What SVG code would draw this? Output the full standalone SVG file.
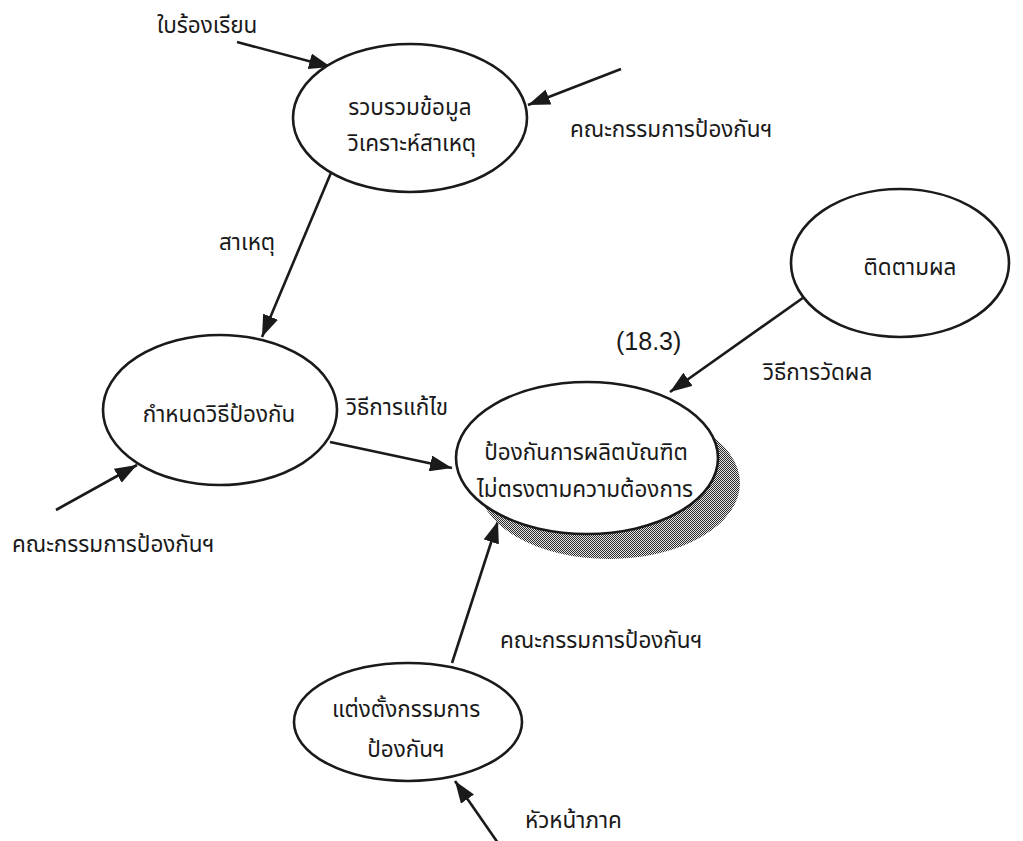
<svg xmlns="http://www.w3.org/2000/svg" width="1023" height="841" viewBox="0 0 1023 841">
  <defs>
    <marker id="arrow" viewBox="0 0 22 16" refX="22" refY="8" markerWidth="22" markerHeight="16" markerUnits="userSpaceOnUse" orient="auto">
      <path d="M0,0 L22,8 L0,16 Z" fill="#1a1a1a"/>
    </marker>
    <!-- fine halftone used for the drop shadow -->
    <pattern id="dots" width="2" height="2" patternUnits="userSpaceOnUse">
      <rect width="2" height="2" fill="#e6e6e6"/>
      <rect width="1" height="1" fill="#2a2a2a"/>
      <rect x="1" y="1" width="1" height="1" fill="#2a2a2a"/>
    </pattern>
    <style>
      .bubble { fill: #fff; stroke: #1a1a1a; stroke-width: 2.6; }
      .flow { stroke: #1a1a1a; stroke-width: 2.6; fill: none; marker-end: url(#arrow); }
      text { font-family: "Noto Sans Thai", "Liberation Sans", "Noto Sans", sans-serif; font-size: 22.5px; fill: #1a1a1a; }
      .mid { text-anchor: middle; }
      .num { font-family: "Liberation Sans", Arial, sans-serif; font-size: 25px; }
    </style>
  </defs>
  <rect width="1023" height="841" fill="#fff"/>

  <!-- data flows -->
  <g id="connectors">
    <path class="flow" d="M237,42 L331,67"/>
    <path class="flow" d="M621,69 L528,105"/>
    <path class="flow" d="M333,168 L262,337"/>
    <path class="flow" d="M330,442 L452,468"/>
    <path class="flow" d="M56,510 L137,465"/>
    <path class="flow" d="M807,295 L670,392"/>
    <path class="flow" d="M452,663 L498,521"/>
    <path class="flow" d="M498,843 L455,781"/>
  </g>

  <!-- flow labels -->
  <g id="labels">
    <text x="157" y="33">ใบร้องเรียน</text>
    <text x="570" y="137">คณะกรรมการป้องกันฯ</text>
    <text x="219" y="250">สาเหตุ</text>
    <text x="346" y="415">วิธีการแก้ไข</text>
    <text x="12" y="552">คณะกรรมการป้องกันฯ</text>
    <text class="num" x="616" y="350">(18.3)</text>
    <text x="763" y="380">วิธีการวัดผล</text>
    <text x="500" y="648">คณะกรรมการป้องกันฯ</text>
    <text x="525" y="828">หัวหน้าภาค</text>
  </g>

  <g id="node-collect">
    <ellipse class="bubble" cx="410" cy="118" rx="117" ry="74"/>
    <text class="mid" x="410" y="115">รวบรวมข้อมูล</text>
    <text class="mid" x="412" y="151">วิเคราะห์สาเหตุ</text>
  </g>

  <g id="node-define">
    <ellipse class="bubble" cx="220" cy="410" rx="117" ry="75"/>
    <text class="mid" x="219" y="422">กำหนดวิธีป้องกัน</text>
  </g>

  <g id="node-prevent">
    <ellipse cx="609" cy="483" rx="131" ry="76" fill="url(#dots)"/>
    <ellipse class="bubble" cx="587" cy="458" rx="131" ry="76"/>
    <text class="mid" x="586" y="460">ป้องกันการผลิตบัณฑิต</text>
    <text class="mid" x="585" y="497">ไม่ตรงตามความต้องการ</text>
  </g>

  <g id="node-follow">
    <ellipse class="bubble" cx="900" cy="263" rx="109" ry="74"/>
    <text class="mid" x="910" y="275">ติดตามผล</text>
  </g>

  <g id="node-appoint">
    <ellipse class="bubble" cx="408" cy="722" rx="114" ry="59"/>
    <text class="mid" x="406" y="717">แต่งตั้งกรรมการ</text>
    <text class="mid" x="406" y="757">ป้องกันฯ</text>
  </g>
</svg>
